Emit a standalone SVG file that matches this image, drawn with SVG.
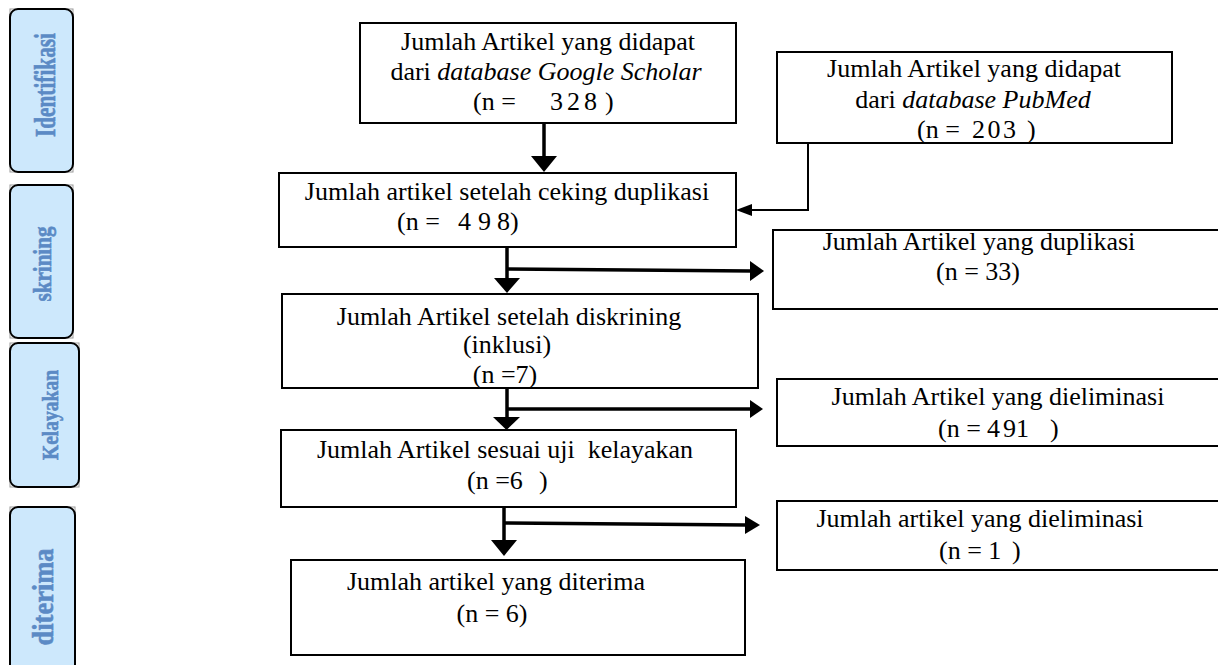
<svg xmlns="http://www.w3.org/2000/svg" width="1218" height="665" viewBox="0 0 1218 665">
<style>
.box{fill:#fff;stroke:#000;stroke-width:2}
.t{font-family:"Liberation Serif","Times New Roman",serif;font-size:26px;fill:#000}
.c{text-anchor:middle}
.it{font-style:italic}
.side{fill:#cde8fc;stroke:#000;stroke-width:2}
.frame{fill:none;stroke:#999;stroke-width:1}
.st{font-family:"Liberation Serif","Times New Roman",serif;font-weight:bold;fill:#5b8ac5;stroke:#5b8ac5;stroke-width:0.6;text-anchor:middle}
.ln{fill:none;stroke:#000;stroke-width:3.5}
.thin{fill:none;stroke:#000;stroke-width:2}
.ah{fill:#000}
</style>
<rect width="1218" height="665" fill="#fff"/>

<g id="side-identifikasi">
<rect class="frame" x="10" y="9" width="63" height="163"/>
<rect class="side" x="10" y="9" width="63" height="163" rx="8"/>
<text class="st" font-size="29" transform="translate(55,85) rotate(-90)" textLength="104" lengthAdjust="spacingAndGlyphs">Identifikasi</text>
</g>
<g id="side-skrining">
<rect class="frame" x="10" y="185" width="63" height="153"/>
<rect class="side" x="10" y="185" width="63" height="153" rx="8"/>
<text class="st" font-size="25" transform="translate(51,264) rotate(-90)" textLength="75" lengthAdjust="spacingAndGlyphs">skrining</text>
</g>
<g id="side-kelayakan">
<rect class="frame" x="10" y="343" width="69" height="144"/>
<rect class="side" x="10" y="343" width="69" height="144" rx="8"/>
<text class="st" font-size="23" transform="translate(58,415) rotate(-90)" textLength="90" lengthAdjust="spacingAndGlyphs">Kelayakan</text>
</g>
<g id="side-diterima">
<rect class="frame" x="10" y="507" width="65" height="170"/>
<rect class="side" x="10" y="507" width="65" height="170" rx="8"/>
<text class="st" font-size="30" transform="translate(53,597) rotate(-90)" textLength="97" lengthAdjust="spacingAndGlyphs">diterima</text>
</g>

<g id="connectors">
<line class="ln" x1="544" y1="123" x2="544" y2="158"/>
<polygon class="ah" points="531,156 557,156 544,172"/>
<polyline class="thin" points="808,143 808,210 751,210"/>
<polygon class="ah" points="752,204 752,216 736,210"/>
<line class="ln" x1="507" y1="247" x2="507" y2="280"/>
<polygon class="ah" points="494,278 520,278 507,293"/>
<line class="ln" x1="507" y1="269" x2="752" y2="271"/>
<polygon class="ah" points="750,261 750,281 764,271"/>
<line class="ln" x1="507" y1="388" x2="507" y2="419"/>
<polygon class="ah" points="493,417 520,417 506.5,430"/>
<line class="ln" x1="507" y1="409" x2="752" y2="409"/>
<polygon class="ah" points="750,400 750,418 763,409"/>
<line class="ln" x1="504" y1="507" x2="504" y2="542"/>
<polygon class="ah" points="491,540 517,540 504,556"/>
<line class="ln" x1="504" y1="523" x2="747" y2="525"/>
<polygon class="ah" points="745,516 745,534 760,525"/>
</g>

<g id="box-google">
<rect class="box" x="360" y="23" width="376" height="100"/>
<text class="t c" x="548" y="50">Jumlah Artikel yang didapat</text>
<text class="t c" x="546" y="80">dari <tspan class="it">database Google Scholar</tspan></text>
<text class="t"><tspan x="473" y="110">(n =</tspan><tspan x="550" y="110" letter-spacing="4">328</tspan><tspan x="605" y="110">)</tspan></text>
</g>

<g id="box-pubmed">
<rect class="box" x="777" y="52" width="395" height="91"/>
<text class="t c" x="974" y="77">Jumlah Artikel yang didapat</text>
<text class="t c" x="973" y="108">dari <tspan class="it">database PubMed</tspan></text>
<text class="t"><tspan x="917" y="138">(n =</tspan><tspan x="972" y="138" letter-spacing="2.5">203</tspan><tspan x="1027" y="138">)</tspan></text>
</g>

<g id="box-ceking">
<rect class="box" x="279" y="173" width="457" height="74"/>
<text class="t c" x="507" y="200">Jumlah artikel setelah ceking duplikasi</text>
<text class="t"><tspan x="397" y="230">(n =</tspan><tspan x="458" y="230">4</tspan><tspan x="478" y="230">9</tspan><tspan x="497" y="230">8)</tspan></text>
</g>

<g id="box-duplikasi">
<rect class="box" x="773" y="230" width="450" height="79"/>
<text class="t c" x="979" y="250">Jumlah Artikel yang duplikasi</text>
<text class="t c" x="978" y="280">(n = 33)</text>
</g>

<g id="box-diskrining">
<rect class="box" x="282" y="294" width="476" height="94"/>
<text class="t c" x="509" y="325">Jumlah Artikel setelah diskrining</text>
<text class="t c" x="507" y="353">(inklusi)</text>
<text class="t c" x="505" y="383">(n =7)</text>
</g>

<g id="box-eliminasi-491">
<rect class="box" x="777" y="379" width="446" height="67"/>
<text class="t c" x="998" y="405">Jumlah Artikel yang dieliminasi</text>
<text class="t"><tspan x="938" y="437">(n =</tspan><tspan x="987" y="437">4</tspan><tspan x="1003" y="437">91</tspan><tspan x="1050" y="437">)</tspan></text>
</g>

<g id="box-kelayakan">
<rect class="box" x="281" y="430" width="455" height="77"/>
<text class="t c" x="505" y="458" xml:space="preserve">Jumlah Artikel sesuai uji  kelayakan</text>
<text class="t"><tspan x="467" y="489">(n =6</tspan><tspan x="539" y="489">)</tspan></text>
</g>

<g id="box-eliminasi-1">
<rect class="box" x="777" y="501" width="446" height="69"/>
<text class="t c" x="980" y="527">Jumlah artikel yang dieliminasi</text>
<text class="t"><tspan x="939" y="559">(n = 1</tspan><tspan x="1012" y="559">)</tspan></text>
</g>

<g id="box-diterima">
<rect class="box" x="291" y="560" width="454" height="95"/>
<text class="t c" x="496" y="590">Jumlah artikel yang diterima</text>
<text class="t c" x="492" y="622">(n = 6)</text>
</g>
</svg>
